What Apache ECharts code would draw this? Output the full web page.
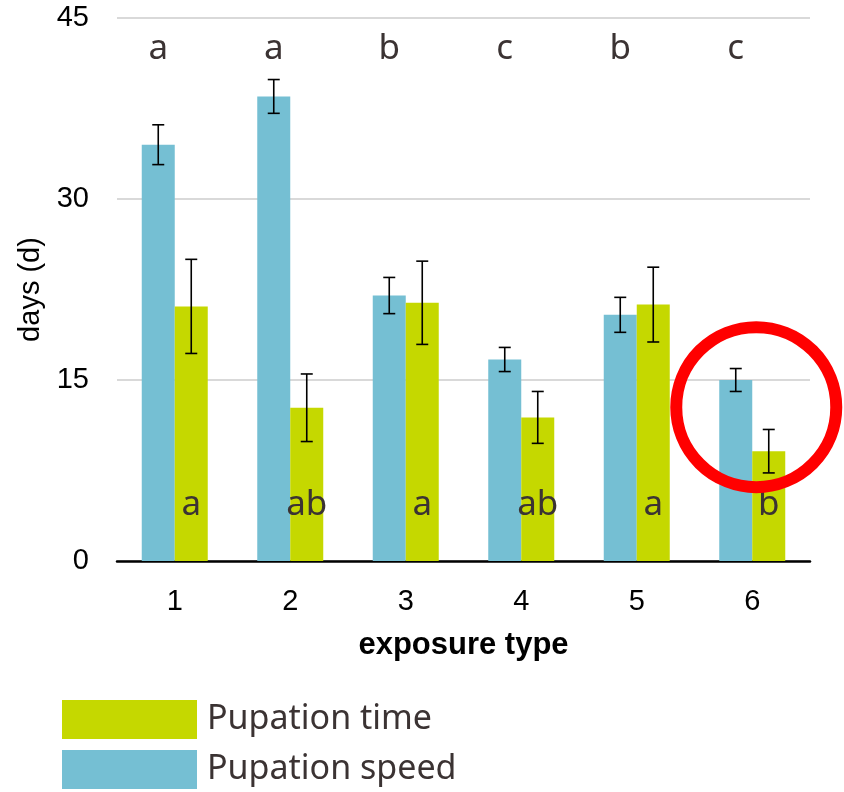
<!DOCTYPE html>
<html>
<head>
<meta charset="utf-8">
<script src="https://cdn.jsdelivr.net/npm/echarts@6/dist/echarts.min.js"></script>
<style>
  html, body { margin: 0; padding: 0; background: #ffffff; }
  #chart { width: 844px; height: 792px; }
</style>
</head>
<body>
<div id="chart"></div>
<script>
// Exposure types on the x axis
const categories = ['1', '2', '3', '4', '5', '6'];

// Pupation speed (days): means and error half-widths
const speedMeans = [34.5, 38.5, 22.0, 16.7, 20.4, 15.0];
const speedErr = [1.65, 1.4, 1.5, 1.0, 1.45, 0.95];

// Pupation time (days): means and error half-widths
const timeMeans = [21.1, 12.7, 21.4, 11.9, 21.25, 9.1];
const timeErr = [3.9, 2.8, 3.45, 2.15, 3.1, 1.8];

// Significance-group letters
const speedLetters = ['a', 'a', 'b', 'c', 'b', 'c'];
const timeLetters = ['a', 'ab', 'a', 'ab', 'a', 'b'];

// Heights (in days) at which the letter rows are written
const speedLetterLevel = 42.4;
const timeLetterLevel = 4.6;

// Y axis range
const yMin = 0, yMax = 45, yStep = 15;

const BLUE = '#75bfd3';
const GREEN = '#c5d800';
const LETTER = '#3b3333';
const BAR_W = 33;
const sans = '"Liberation Sans", Arial, sans-serif';
const letterFont = '"Noto Sans", "Open Sans", sans-serif';

const chart = echarts.init(document.getElementById('chart'));

function errorBarSeries(means, errs, side) {
  return {
    type: 'custom',
    silent: true,
    z: 5,
    data: means.map((m, i) => [i, m - errs[i], m + errs[i]]),
    renderItem: function (params, api) {
      const i = api.value(0);
      const x = api.coord([i, 0])[0] + side * BAR_W / 2;
      const lo = api.coord([i, api.value(1)])[1];
      const hi = api.coord([i, api.value(2)])[1];
      const cap = 6;
      const st = { stroke: '#000', lineWidth: 1.6 };
      return {
        type: 'group',
        children: [
          { type: 'line', shape: { x1: x, y1: lo, x2: x, y2: hi }, style: st },
          { type: 'line', shape: { x1: x - cap, y1: hi, x2: x + cap, y2: hi }, style: st },
          { type: 'line', shape: { x1: x - cap, y1: lo, x2: x + cap, y2: lo }, style: st }
        ]
      };
    }
  };
}

function letterSeries(letters, level, side) {
  return {
    type: 'custom',
    silent: true,
    z: 6,
    data: letters.map((t, i) => [i, level]),
    renderItem: function (params, api) {
      const i = api.value(0);
      const p = api.coord([i, api.value(1)]);
      return {
        type: 'text',
        x: p[0] + side * BAR_W / 2,
        y: p[1],
        style: {
          text: letters[params.dataIndex],
          fontSize: 35,
          fontFamily: letterFont,
          fill: LETTER,
          align: 'center',
          verticalAlign: 'middle'
        }
      };
    }
  };
}

chart.setOption({
  animation: false,
  backgroundColor: '#ffffff',
  grid: { left: 117, right: 34, top: 18, bottom: 231, containLabel: false, outerBoundsMode: 'none' },
  legend: {
    orient: 'vertical',
    left: 62,
    top: 700,
    padding: 0,
    itemWidth: 135,
    itemHeight: 39,
    itemGap: 11,
    icon: 'rect',
    data: ['Pupation time', 'Pupation speed'],
    textStyle: {
      fontSize: 34,
      fontFamily: letterFont,
      color: LETTER,
      padding: [0, 0, 0, 5]
    }
  },
  xAxis: {
    type: 'category',
    data: categories,
    axisLine: { show: true, lineStyle: { color: '#000', width: 2.5 } },
    axisTick: { show: false },
    axisLabel: { fontSize: 29, fontFamily: sans, color: '#000', margin: 26 },
    name: 'exposure type',
    nameLocation: 'middle',
    nameGap: 69,
    nameTextStyle: { fontSize: 31, fontWeight: 'bold', fontFamily: sans, color: '#000' }
  },
  yAxis: {
    type: 'value',
    min: yMin,
    max: yMax,
    interval: yStep,
    axisLine: { show: false },
    axisTick: { show: false },
    axisLabel: { fontSize: 29, fontFamily: sans, color: '#000', margin: 28 },
    splitLine: { show: true, lineStyle: { color: '#d9d9d9', width: 2 } },
    name: 'days (d)',
    nameLocation: 'middle',
    nameRotate: 90,
    nameGap: 72,
    nameTextStyle: { fontSize: 29, fontFamily: sans, color: '#000' }
  },
  series: [
    {
      name: 'Pupation speed',
      type: 'bar',
      data: speedMeans,
      barWidth: BAR_W,
      barGap: '0%',
      itemStyle: { color: BLUE },
      z: 2
    },
    {
      name: 'Pupation time',
      type: 'bar',
      data: timeMeans,
      barWidth: BAR_W,
      barGap: '0%',
      itemStyle: { color: GREEN },
      z: 2
    },
    errorBarSeries(speedMeans, speedErr, -1),
    errorBarSeries(timeMeans, timeErr, 1),
    letterSeries(speedLetters, speedLetterLevel, -1),
    letterSeries(timeLetters, timeLetterLevel, 1)
  ]
});

// Red ring highlighting exposure type 6
const ringCenter = chart.convertToPixel({ xAxisIndex: 0, yAxisIndex: 0 }, [5, 12.75]);
chart.setOption({
  graphic: [{
    type: 'circle',
    z: 100,
    silent: true,
    shape: { cx: ringCenter[0] + 4, cy: ringCenter[1], r: 80 },
    style: { fill: 'none', stroke: '#ff0000', lineWidth: 12 }
  }]
});
</script>
</body>
</html>
